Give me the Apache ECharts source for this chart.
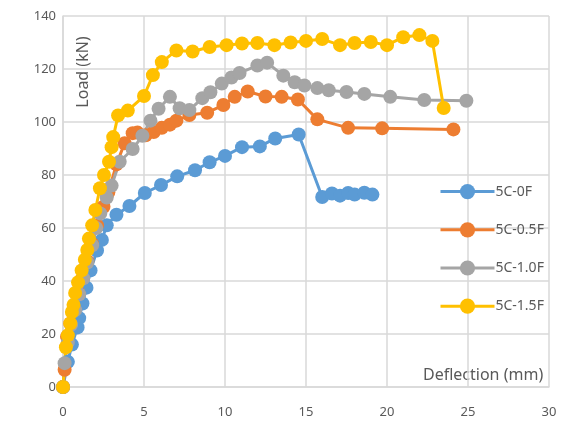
<!DOCTYPE html>
<html>
<head>
<meta charset="utf-8">
<script src="https://cdn.jsdelivr.net/npm/echarts@6/dist/echarts.min.js"></script>
<style>html,body{margin:0;padding:0;background:#fff}#c{width:563px;height:428px}</style>
</head>
<body>
<div id="c"></div>
<script>
const seriesNames = ['5C-0F', '5C-0.5F', '5C-1.0F', '5C-1.5F'];
const xTicks = [0, 5, 10, 15, 20, 25, 30];
const yTicks = [0, 20, 40, 60, 80, 100, 120, 140];

const x0F = [0, 0.3, 0.55, 0.9, 1.0, 1.2, 1.45, 1.7, 2.1, 2.4, 2.7, 3.3, 4.1, 5.05, 6.05, 7.05, 8.15, 9.05, 10.0, 11.05, 12.15, 13.1, 14.55, 16.0, 16.6, 17.1, 17.6, 18.0, 18.6, 19.1];
const y0F = [0, 9.5, 16, 22.5, 26, 31.5, 37.5, 44, 51.5, 55.5, 61, 65, 68.3, 73.2, 76.2, 79.5, 81.8, 84.8, 87.2, 90.5, 90.8, 93.8, 95.3, 71.7, 73, 72.2, 73.2, 72.6, 73.3, 72.6];

const x05F = [0, 0.1, 0.25, 0.45, 0.7, 0.95, 1.2, 1.5, 1.8, 2.1, 2.5, 2.8, 3.3, 3.8, 4.3, 4.6, 5.1, 5.6, 6.1, 6.6, 7.0, 7.8, 8.9, 9.9, 10.6, 11.4, 12.5, 13.5, 14.5, 15.7, 17.6, 19.7, 24.1];
const y05F = [0, 6.5, 19, 24, 29.5, 35.5, 41, 47.5, 54, 61, 68, 73.5, 84, 92, 95.8, 96, 95, 96.2, 97.8, 99, 100.5, 102.6, 103.5, 106.4, 109.5, 111.5, 109.6, 109.5, 108.5, 101, 97.8, 97.6, 97.2];

const x10F = [0, 0.1, 0.3, 0.5, 0.75, 1.0, 1.25, 1.5, 1.8, 2.05, 2.3, 2.7, 3.0, 3.5, 4.3, 4.9, 5.4, 5.9, 6.6, 7.2, 7.8, 8.6, 9.1, 9.8, 10.4, 10.9, 12.0, 12.6, 13.6, 14.3, 14.9, 15.7, 16.4, 17.5, 18.6, 20.2, 22.3, 24.9];
const y10F = [0, 9, 17, 23.5, 29, 35, 41, 47, 53.5, 60, 65.5, 71.5, 76, 85, 89.8, 94.8, 100.5, 105, 109.5, 105.2, 104.5, 109, 111.2, 114.5, 116.8, 118.5, 121.3, 122.4, 117.5, 115, 113.8, 112.8, 112, 111.3, 110.6, 109.5, 108.3, 108];

const x15F = [0, 0.18, 0.3, 0.45, 0.55, 0.65, 0.75, 0.93, 1.15, 1.35, 1.5, 1.6, 1.8, 2.0, 2.28, 2.53, 2.84, 3.0, 3.1, 3.4, 4.0, 5.0, 5.55, 6.1, 7.0, 8.0, 9.05, 10.1, 11.05, 12.0, 13.05, 14.05, 15.0, 16.0, 17.1, 18.0, 19.0, 20.0, 21.0, 22.0, 22.8, 23.5];
const y15F = [0, 15, 19.5, 24, 28.3, 31, 35.5, 39.5, 44, 48, 51.7, 56, 61, 66.8, 75, 80, 85, 90.5, 94.3, 102.5, 104.3, 109.8, 117.7, 122.6, 127, 126.6, 128.3, 129, 129.6, 129.8, 129, 130, 130.6, 131.3, 129, 129.8, 130.2, 129, 132, 132.8, 130.6, 105.3];

const colors = ['#5B9BD5', '#ED7D31', '#A5A5A5', '#FFC000'];
const xs = [x0F, x05F, x10F, x15F];
const ys = [y0F, y05F, y10F, y15F];

const textColor = '#595959';
const gridColor = '#D9D9D9';
const fontFam = '"Noto Sans", sans-serif';

const chart = echarts.init(document.getElementById('c'));
chart.setOption({
  animation: false,
  color: colors,
  grid: { left: 63, right: 14, top: 16, bottom: 41, containLabel: false },
  xAxis: {
    type: 'value', min: xTicks[0], max: xTicks[xTicks.length - 1], interval: 5,
    axisLine: { show: true, lineStyle: { color: gridColor, width: 1.5 } },
    axisTick: { show: false },
    axisLabel: { color: textColor, fontSize: 13, fontFamily: fontFam, margin: 19 },
    splitLine: { show: true, lineStyle: { color: gridColor, width: 1.5 } }
  },
  yAxis: {
    type: 'value', min: yTicks[0], max: yTicks[yTicks.length - 1], interval: 20,
    axisLine: { show: true, lineStyle: { color: gridColor, width: 1.5 } },
    axisTick: { show: false },
    axisLabel: { color: textColor, fontSize: 13, fontFamily: fontFam, margin: 7 },
    splitLine: { show: true, lineStyle: { color: gridColor, width: 1.5 } }
  },
  legend: {
    orient: 'vertical', left: 434, top: 179, itemWidth: 54, itemHeight: 19, itemGap: 23,
    lineStyle: { width: 3 },
    textStyle: { color: textColor, fontSize: 14, fontFamily: fontFam, padding: [0, 0, 0, -4] },
    data: seriesNames
  },
  graphic: [
    { type: 'text', left: 423, top: 367, style: { text: 'Deflection (mm)', fill: textColor, font: '16px "Noto Sans", sans-serif' } },
    { type: 'text', x: 83, y: 72, rotation: Math.PI / 2, style: { text: 'Load (kN)', fill: textColor, font: '16px "Noto Sans", sans-serif', align: 'center', verticalAlign: 'middle' } }
  ],
  series: seriesNames.map((n, i) => ({
    name: n, type: 'line', symbol: 'circle', symbolSize: 14,
    lineStyle: { width: 3, color: colors[i] },
    itemStyle: { color: colors[i] },
    data: xs[i].map((x, j) => [x, ys[i][j]])
  }))
});
</script>
</body>
</html>
